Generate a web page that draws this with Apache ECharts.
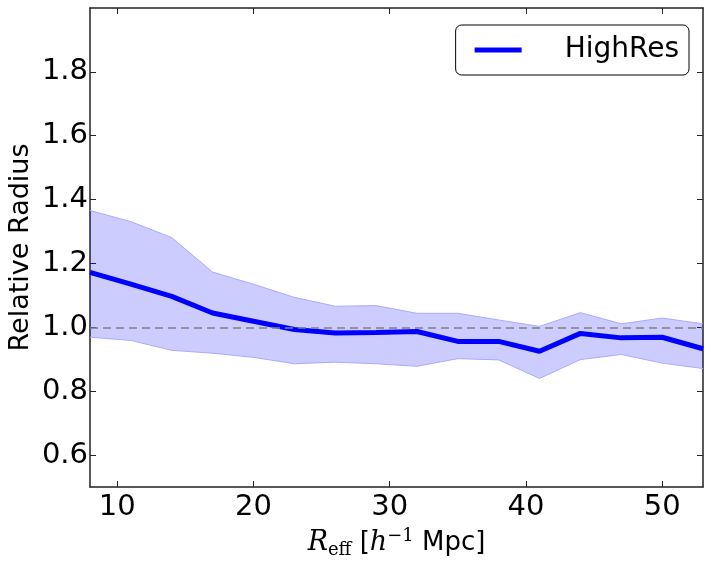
<!DOCTYPE html>
<html>
<head>
<meta charset="utf-8">
<script src="https://cdn.jsdelivr.net/npm/echarts@6/dist/echarts.min.js"></script>
<style>
html, body { margin: 0; padding: 0; background: #fff; }
#chart { width: 714px; height: 567px; }
</style>
</head>
<body>
<div id="chart"></div>
<script>
// data
var xValues = [8, 11, 14, 17, 20, 23, 26, 29, 32, 35, 38, 41, 44, 47, 50, 53];
var meanRadius = [1.172, 1.135, 1.097, 1.045, 1.019, 0.993, 0.982, 0.984, 0.987, 0.956, 0.956, 0.925, 0.981, 0.967, 0.969, 0.933];
var upperRadius = [1.366, 1.331, 1.281, 1.173, 1.135, 1.094, 1.066, 1.068, 1.044, 1.044, 1.023, 1.003, 1.046, 1.011, 1.029, 1.011];
var lowerRadius = [0.969, 0.959, 0.928, 0.919, 0.906, 0.886, 0.891, 0.886, 0.878, 0.902, 0.898, 0.840, 0.899, 0.915, 0.888, 0.871];
var xTicks = [10, 20, 30, 40, 50];
var yTicks = [0.6, 0.8, 1.0, 1.2, 1.4, 1.6, 1.8];
var refLevel = 1.0;

function pairs(ys) {
	return xValues.map(function (x, i) { return [x, ys[i]]; });
}
var bandData = xValues.map(function (x, i) { return [x, lowerRadius[i], upperRadius[i]]; });

var font = 'DejaVu Sans';
var axisLineStyle = { color: '#222', width: 1.5 };

function xAxisDef(pos, showLabels) {
	return {
		type: 'value', position: pos, min: 8, max: 53,
		axisLine: { show: true, lineStyle: axisLineStyle },
		axisTick: { show: true, inside: true, length: 6, customValues: xTicks, lineStyle: { color: '#222', width: 1 } },
		axisLabel: { show: showLabels, customValues: xTicks, color: '#000', fontFamily: font, fontSize: 29, margin: 6 },
		splitLine: { show: false }
	};
}
function yAxisDef(pos, showLabels) {
	return {
		type: 'value', position: pos, min: 0.5, max: 2.0,
		axisLine: { show: true, lineStyle: axisLineStyle },
		axisTick: { show: true, inside: true, length: 6, customValues: yTicks, lineStyle: { color: '#222', width: 1 } },
		axisLabel: { show: showLabels, customValues: yTicks, color: '#000', fontFamily: font, fontSize: 29, margin: 2,
			formatter: function (v) { return v.toFixed(1); } },
		splitLine: { show: false }
	};
}

var xBottom = xAxisDef('bottom', true);
xBottom.name = '{r|R}{sub|eff}{t| [}{r|h}{sup|\u22121}{t| Mpc]}';
xBottom.nameLocation = 'middle';
xBottom.nameGap = 39;
xBottom.nameTextStyle = {
	rich: {
		r: { fontFamily: 'DejaVu Serif', fontStyle: 'italic', fontSize: 27, color: '#000' },
		sub: { fontFamily: 'DejaVu Serif', fontSize: 18, color: '#000', padding: [14, 0, 0, 0] },
		sup: { fontFamily: 'DejaVu Serif', fontSize: 18, color: '#000', padding: [0, 0, 14, 0] },
		t: { fontFamily: font, fontSize: 26, color: '#000' }
	}
};

var yLeft = yAxisDef('left', true);
yLeft.name = 'Relative Radius';
yLeft.nameLocation = 'middle';
yLeft.nameGap = 56;
yLeft.nameMoveOverlap = false;
yLeft.nameTextStyle = { fontFamily: font, fontSize: 27, color: '#000' };

// shaded spread between lower and upper bounds
function renderBand(params, api) {
	if (params.dataIndex !== 0) return;
	var top = [], bottom = [];
	for (var i = 0; i < bandData.length; i++) {
		top.push(api.coord([bandData[i][0], bandData[i][2]]));
		bottom.push(api.coord([bandData[i][0], bandData[i][1]]));
	}
	var ring = top.concat(bottom.slice().reverse());
	return {
		type: 'group',
		children: [
			{ type: 'polygon', shape: { points: ring }, style: { fill: 'rgba(0,0,255,0.2)', stroke: 'none' } },
			{ type: 'polyline', shape: { points: top }, style: { fill: null, stroke: '#aaaaff', lineWidth: 1 } },
			{ type: 'polyline', shape: { points: bottom }, style: { fill: null, stroke: '#aaaaff', lineWidth: 1 } }
		]
	};
}

var chart = echarts.init(document.getElementById('chart'));
var option = {
	animation: false,
	backgroundColor: '#fff',
	grid: { left: 90, right: 11, top: 8, bottom: 80, outerBoundsMode: 'none', containLabel: false },
	legend: {
		right: 25, top: 25,
		data: [{ name: 'HighRes', icon: 'rect' }],
		itemWidth: 47, itemHeight: 5,
		itemStyle: { color: '#0000ff' },
		padding: [11, 10, 11, 19],
		backgroundColor: '#fff',
		borderColor: '#000', borderWidth: 1, borderRadius: 6,
		textStyle: { fontFamily: font, fontSize: 28, color: '#000', padding: [0, 0, 0, 38] }
	},
	xAxis: [xBottom, xAxisDef('top', false)],
	yAxis: [yLeft, yAxisDef('right', false)],
	series: [
		{
			name: 'spread', type: 'custom', data: bandData, renderItem: renderBand,
			encode: { x: 0, y: [1, 2] }, clip: true, silent: true, z: 1
		},
		{
			name: 'HighRes', type: 'line', data: pairs(meanRadius),
			symbol: 'none', lineStyle: { color: '#0000ff', width: 5 }, itemStyle: { color: '#0000ff' }, z: 3,
			markLine: {
				silent: true, symbol: 'none', label: { show: false },
				lineStyle: { color: '#808080', type: [8, 5], width: 1.5 },
				data: [{ yAxis: refLevel }]
			}
		}
	]
};
chart.setOption(option);
</script>
</body>
</html>
